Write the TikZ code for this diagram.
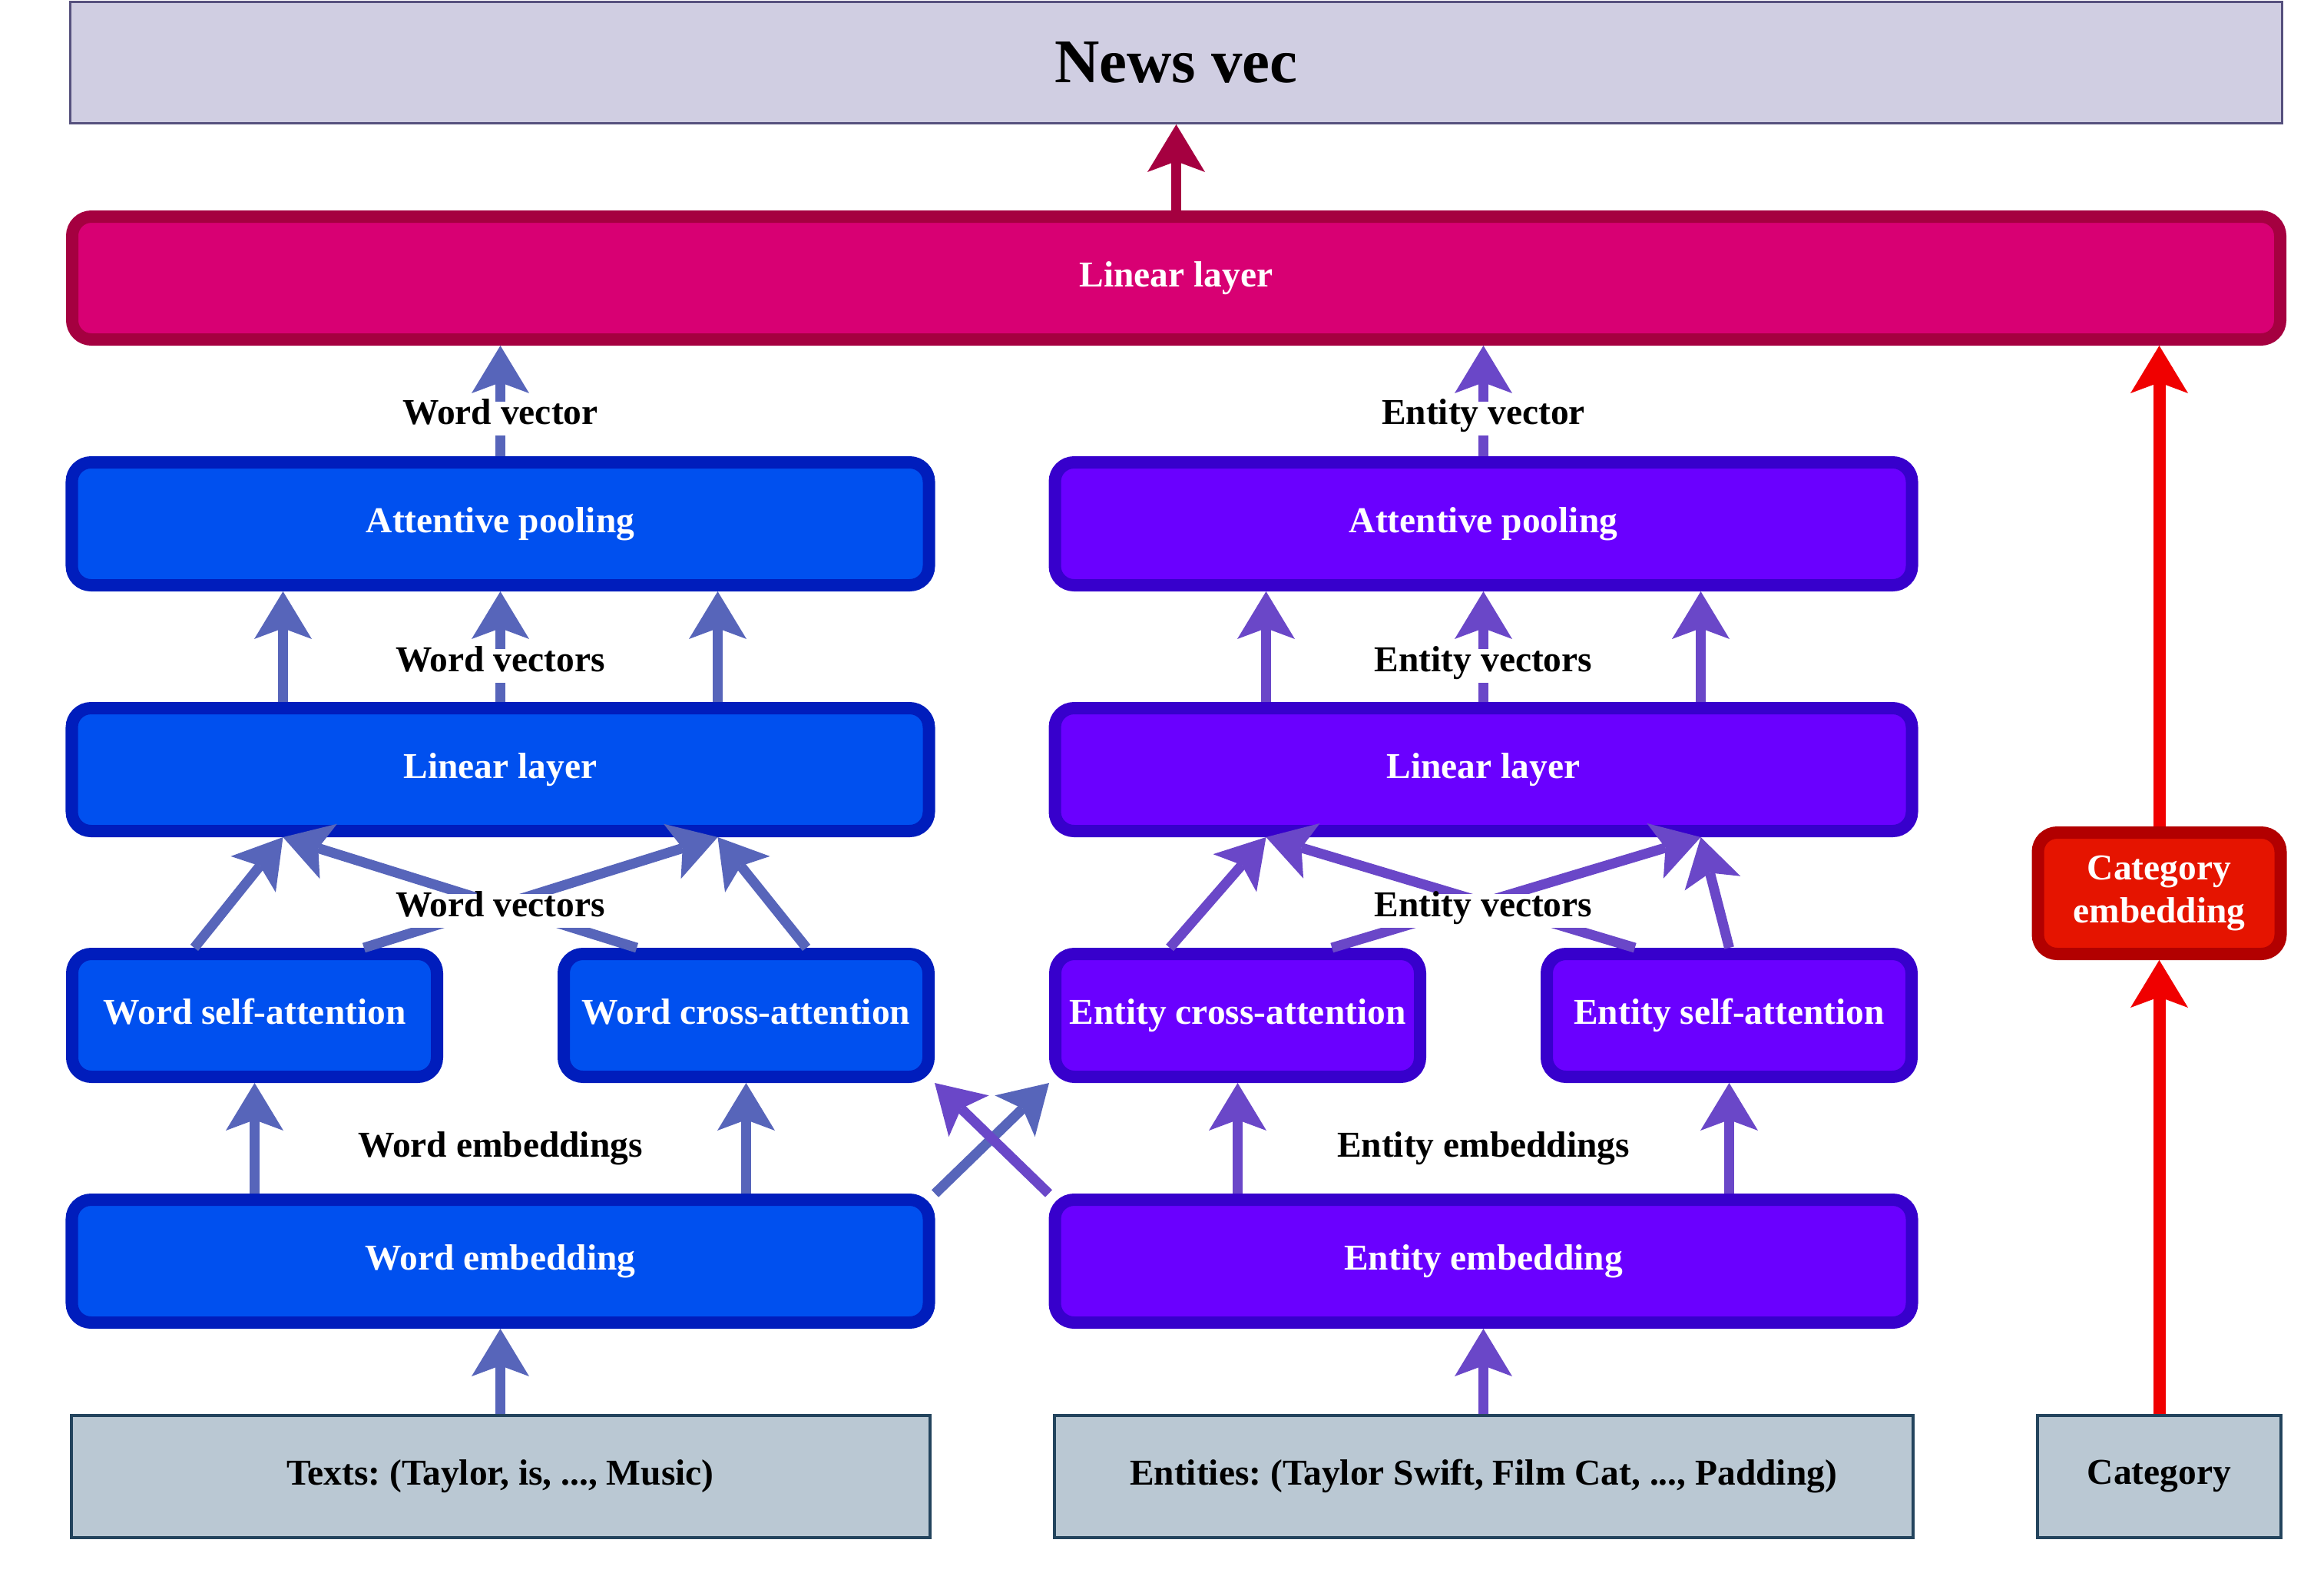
\documentclass[tikz,border=0pt]{standalone}
\usepackage{fontspec}
\setmainfont{Liberation Serif}
\usepackage{tikz}
\usetikzlibrary{arrows.meta, positioning, calc}
\frenchspacing

\definecolor{wordFill}{HTML}{0050EF}
\definecolor{wordLine}{HTML}{001DBC}
\definecolor{entFill}{HTML}{6A00FF}
\definecolor{entLine}{HTML}{3700CC}
\definecolor{outFill}{HTML}{D80073}
\definecolor{outLine}{HTML}{A50040}
\definecolor{catFill}{HTML}{E51400}
\definecolor{catLine}{HTML}{B20000}
\definecolor{inFill}{HTML}{BAC8D3}
\definecolor{inLine}{HTML}{23445D}
\definecolor{vecFill}{HTML}{D0CEE2}
\definecolor{vecLine}{HTML}{56517E}
\definecolor{wordArrow}{HTML}{5765BA}
\definecolor{entArrow}{HTML}{6A47C8}
\definecolor{catArrow}{HTML}{F00000}

\begin{document}
\begin{tikzpicture}[node distance=3.2cm, font=\fontsize{13.5}{16}\selectfont\bfseries]
	\tikzstyle{block} = [rectangle, rounded corners=0.25cm, line width=0.16cm, 
	minimum height=1.6cm, text=white, text centered, text height=0.68em, text depth=0.05em]
	\tikzstyle{wordbox} = [block, draw=wordLine, fill=wordFill]
	\tikzstyle{entbox} = [block, draw=entLine, fill=entFill]
	\tikzstyle{inbox} = [rectangle, line width=0.04cm, draw=inLine, fill=inFill, 
	minimum height=1.59cm, text centered]
	\tikzstyle{lbl} = [fill=white, inner sep=0.05cm, text height=0.68em, text depth=0.28em]
	\tikzstyle{warrow} = [line width=0.13cm, draw=wordArrow, 
	-{Stealth[length=0.62cm, width=0.75cm, inset=0.14cm, line width=0pt]}]
	\tikzstyle{earrow} = [warrow, draw=entArrow]
	\tikzstyle{oarrow} = [warrow, draw=outLine]
	\tikzstyle{carrow} = [warrow, line width=0.16cm, draw=catArrow]
	\useasboundingbox (0,0) rectangle (30.13,-20.77);
	% boxes
	\node (newsVec) [rectangle, line width=0.03cm, draw=vecLine, fill=vecFill, 
	minimum width=28.80cm, minimum height=1.58cm] at (15.315,-0.815) 
	{\fontsize{23}{27}\selectfont News vec};
	\node (newsLin) [block, draw=outLine, fill=outFill, minimum width=28.75cm, 
	node distance=2.805cm, below of=newsVec] {Linear layer};
	\node (wordPool) [wordbox, minimum width=11.16cm, below of=newsLin, xshift=-8.8cm] {Attentive pooling};
	\node (wordLin) [wordbox, minimum width=11.16cm, below of=wordPool] {Linear layer};
	\node (wordSelf) [wordbox, minimum width=4.75cm, below of=wordLin, xshift=-3.2cm] {Word self-attention};
	\node (wordCross) [wordbox, minimum width=4.75cm, below of=wordLin, xshift=3.2cm] {Word cross-attention};
	\node (wordEmb) [wordbox, minimum width=11.16cm, below of=wordSelf, xshift=3.2cm] {Word embedding};
	\node (texts) [inbox, minimum width=11.18cm, node distance=2.8cm, below of=wordEmb] {Texts: (Taylor, is, ..., Music)};
	\node (entPool) [entbox, minimum width=11.16cm, below of=newsLin, xshift=4.0cm] {Attentive pooling};
	\node (entLin) [entbox, minimum width=11.16cm, below of=entPool] {Linear layer};
	\node (entCross) [entbox, minimum width=4.75cm, below of=entLin, xshift=-3.2cm] {Entity cross-attention};
	\node (entSelf) [entbox, minimum width=4.75cm, below of=entLin, xshift=3.2cm] {Entity self-attention};
	\node (entEmb) [entbox, minimum width=11.16cm, below of=entCross, xshift=3.2cm] {Entity embedding};
	\node (entities) [inbox, minimum width=11.18cm, node distance=2.8cm, below of=entEmb] {Entities: (Taylor Swift, Film Cat, ..., Padding)};
	\node (catEmb) [block, draw=catLine, fill=catFill, minimum width=3.16cm, minimum height=1.58cm, 
	align=center, text height=, text depth=, node distance=1.61cm, below of=entLin, xshift=8.8cm] {Category\\embedding};
	\node (category) [inbox, minimum width=3.17cm, node distance=8.8cm, right of=entities] {Category};
	% arrows
	\draw [oarrow] (newsLin.north) -- (newsVec.south);
	\draw [warrow] (texts.north) -- (wordEmb.south);
	\draw [warrow] (wordSelf.south |- wordEmb.north) -- (wordSelf.south);
	\draw [warrow] (wordCross.south |- wordEmb.north) -- (wordCross.south);
	\draw [warrow] ($(wordSelf.north west)!0.34!(wordSelf.north east)$) -- ($(wordLin.south west)!0.25!(wordLin.south east)$);
	\draw [warrow] ($(wordSelf.north west)!0.79!(wordSelf.north east)$) -- ($(wordLin.south west)!0.75!(wordLin.south east)$);
	\draw [warrow] ($(wordCross.north west)!0.21!(wordCross.north east)$) -- ($(wordLin.south west)!0.25!(wordLin.south east)$);
	\draw [warrow] ($(wordCross.north west)!0.66!(wordCross.north east)$) -- ($(wordLin.south west)!0.75!(wordLin.south east)$);
	\foreach \f in {0.25, 0.5, 0.75}
		\draw [warrow] ($(wordLin.north west)!\f!(wordLin.north east)$) -- ($(wordPool.south west)!\f!(wordPool.south east)$);
	\draw [warrow] (wordPool.north) -- (wordPool.north |- newsLin.south);
	\draw [earrow] (entities.north) -- (entEmb.south);
	\draw [earrow] (entCross.south |- entEmb.north) -- (entCross.south);
	\draw [earrow] (entSelf.south |- entEmb.north) -- (entSelf.south);
	\draw [earrow] ($(entCross.north west)!0.32!(entCross.north east)$) -- ($(entLin.south west)!0.25!(entLin.south east)$);
	\draw [earrow] ($(entCross.north west)!0.75!(entCross.north east)$) -- ($(entLin.south west)!0.75!(entLin.south east)$);
	\draw [earrow] ($(entSelf.north west)!0.25!(entSelf.north east)$) -- ($(entLin.south west)!0.25!(entLin.south east)$);
	\draw [earrow] (entSelf.north) -- ($(entLin.south west)!0.75!(entLin.south east)$);
	\foreach \f in {0.25, 0.5, 0.75}
		\draw [earrow] ($(entLin.north west)!\f!(entLin.north east)$) -- ($(entPool.south west)!\f!(entPool.south east)$);
	\draw [earrow] (entPool.north) -- (entPool.north |- newsLin.south);
	\draw [warrow] (wordEmb.north east) -- (entCross.south west);
	\draw [earrow] (entEmb.north west) -- (wordCross.south east);
	\draw [carrow] (category.north) -- (catEmb.south);
	\draw [carrow] (catEmb.north) -- (catEmb.north |- newsLin.south);
	% labels
	\node (wordVec) [lbl, node distance=1.37cm, above of=wordPool] {Word vector};
	\node (wordVecsTop) [lbl, node distance=1.85cm, below of=wordPool] {Word vectors};
	\node (wordVecsLow) [lbl, node distance=1.84cm, below of=wordLin] {Word vectors};
	\node (wordEmbs) [lbl, node distance=4.97cm, below of=wordLin] {Word embeddings};
	\node (entVec) [lbl, node distance=1.37cm, above of=entPool] {Entity vector};
	\node (entVecsTop) [lbl, node distance=1.85cm, below of=entPool] {Entity vectors};
	\node (entVecsLow) [lbl, node distance=1.84cm, below of=entLin] {Entity vectors};
	\node (entEmbs) [lbl, node distance=4.97cm, below of=entLin] {Entity embeddings};
\end{tikzpicture}
\end{document}
